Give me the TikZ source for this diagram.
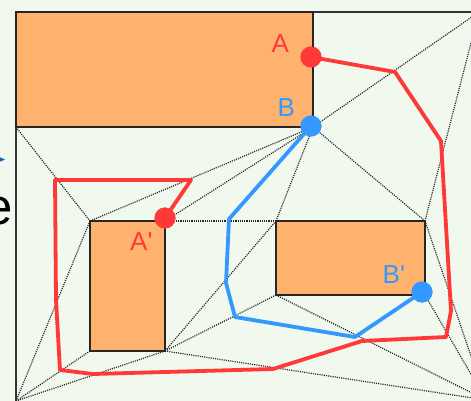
\documentclass[tikz,border=0pt]{standalone}
\usepackage{fontspec}
\setmainfont{Liberation Sans}
\definecolor{bg}{RGB}{241,248,238}
\definecolor{obst}{RGB}{255,178,110}
\definecolor{pathred}{RGB}{255,56,56}
\definecolor{pathblue}{RGB}{51,153,255}
\definecolor{tipblue}{RGB}{20,90,200}
\begin{document}
\begin{tikzpicture}[x=1pt,y=-1pt,
  obstacle/.style={fill=obst, draw=black!85, line width=1.3pt},
  frameline/.style={draw=black!80, line width=1.3pt},
  tri/.style={black!85, line width=1.2pt, dash pattern=on 1.1pt off 1.1pt},
  route/.style={line width=3.8pt, line join=round},
  point/.style={circle, inner sep=0pt, minimum size=21pt},
  lbl/.style={inner sep=0pt, font=\fontsize{26}{26}\selectfont},
]
\useasboundingbox (0,0) rectangle (471,401);
\clip (0,0) rectangle (471,401);
\fill[bg] (0,0) rectangle (471,401);

% corners of the outer region
\coordinate (TL) at (16,12);
\coordinate (TR) at (479,12);
\coordinate (BR) at (486,400);
\coordinate (BL) at (16,401);

% obstacle corners
\coordinate (tBL) at (16,127);   \coordinate (tBR) at (313,127);
\coordinate (lTL) at (90,221);   \coordinate (lTR) at (165,221);
\coordinate (lBL) at (90,351);   \coordinate (lBR) at (165,351);
\coordinate (rTL) at (276,221);  \coordinate (rTR) at (425,221);
\coordinate (rBL) at (276,295);  \coordinate (rBR) at (425,295);

% triangulation of the free space
\foreach \a/\b in {tBL/lTL, lTL/BL, lTL/tBR, lTR/tBR, lTR/rTL, rTL/tBR,
                   rTL/lBR, lBR/rBL, lBR/BR, lBL/BL, lBR/BL, rBL/BR,
                   rTR/TR, tBR/TR, tBR/rTR, rTR/BR, rBR/BR}
  \draw[tri] (\a) -- (\b);

% outer border
\draw[frameline] (BL) -- (TL) -- (TR);

% obstacles
\draw[obstacle] (TL) rectangle (tBR);
\draw[obstacle] (lTL) rectangle (lBR);
\draw[obstacle] (rTL) rectangle (rBR);

% start and goal points
\node[point, fill=pathred]  (A)  at (311,57)  {};
\node[point, fill=pathblue] (B)  at (311,126) {};
\node[point, fill=pathred]  (A2) at (165,218) {};
\node[point, fill=pathblue] (B2) at (422,292) {};

% path from A to A'
\coordinate (r1) at (395,72);  \coordinate (r2) at (441,141);
\coordinate (r3) at (451,311); \coordinate (r4) at (446,337);
\coordinate (r5) at (362,341); \coordinate (r6) at (273,369);
\coordinate (r7) at (93,374);  \coordinate (r8) at (60,370);
\coordinate (r9) at (56,300);  \coordinate (r10) at (55,180);
\coordinate (r11) at (191,180);
\draw[route, pathred] (A.center) -- (r1) -- (r2) -- (r3) -- (r4) -- (r5)
  -- (r6) -- (r7) -- (r8) -- (r9) -- (r10) -- (r11) -- (A2.center);

% path from B to B'
\coordinate (b1) at (229,219); \coordinate (b2) at (226,283);
\coordinate (b3) at (235,317); \coordinate (b4) at (355,337);
\draw[route, pathblue] (B.center) -- (b1) -- (b2) -- (b3) -- (b4) -- (B2.center);

% redraw the points on top of the paths
\fill[pathred]  (A)  circle (10.5pt);
\fill[pathblue] (B)  circle (10.5pt);
\fill[pathred]  (A2) circle (10.5pt);
\fill[pathblue] (B2) circle (10.5pt);

% labels
\node[lbl, text=pathred,  anchor=base west] (labA)  at (271.5,53)  {A};
\node[lbl, text=pathblue, anchor=base west] (labB)  at (277.5,116.5) {B};
\node[lbl, text=pathred,  anchor=base west] (labA2) at (130,250)   {A\textquotesingle};
\node[lbl, text=pathblue, anchor=base west] (labB2) at (382.5,283) {B\textquotesingle};

% pieces at the left margin
\fill[tipblue] (-2,156.5) -- (5,159.5) -- (-2,162.5) -- cycle;
\node[inner sep=0pt, anchor=base west, font=\fontsize{51}{51}\selectfont] (eglyph) at (-15.5,224) {e};
\end{tikzpicture}
\end{document}
